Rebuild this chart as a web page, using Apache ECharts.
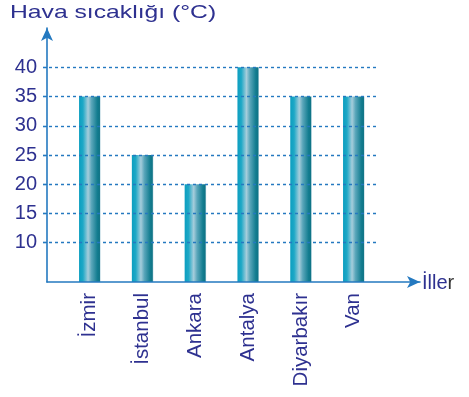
<!DOCTYPE html>
<html>
<head>
<meta charset="utf-8">
<script src="https://cdn.jsdelivr.net/npm/echarts@6/dist/echarts.min.js"></script>
<style>
  html, body { margin: 0; padding: 0; background: #ffffff; }
  #chart { width: 469px; height: 397px; }
</style>
</head>
<body>
<div id="chart"></div>
<script>
// Temperature by city
const cities = ['İzmir', 'İstanbul', 'Ankara', 'Antalya', 'Diyarbakır', 'Van'];
const temps = [35, 25, 20, 40, 35, 35];
const yTicks = [10, 15, 20, 25, 30, 35, 40];
const yTitle = 'Hava sıcaklığı (°C)';
const xTitle = 'İller';

// value range of the plot area; the arrowed axis box is a little taller
const yMin = 3.28;
const yMax = 45.7;
const yMaxAxis = 46.72;

const navy = '#2e3190';
const axisBlue = '#2479c0';
const font = 'Liberation Sans, Arial, sans-serif';

const barGradient = new echarts.graphic.LinearGradient(0, 0, 1, 0, [
  { offset: 0, color: '#0b9ec0' },
  { offset: 0.18, color: '#1ea8c6' },
  { offset: 0.42, color: '#a6cddb' },
  { offset: 0.58, color: '#5aa6ba' },
  { offset: 0.85, color: '#137d90' },
  { offset: 0.95, color: '#0f7486' },
  { offset: 1, color: '#bcd8e2' }
]);

const chart = echarts.init(document.getElementById('chart'), null, { renderer: 'canvas' });

chart.setOption({
  animation: false,
  backgroundColor: '#ffffff',
  grid: [
    // axes with arrows
    { left: 47, right: 49, top: 28, bottom: 115 },
    // dashed reference lines
    { left: 43, right: 93, top: 34, bottom: 115 },
    // bars
    { left: 63.4, right: 88.8, top: 34, bottom: 115 }
  ],
  xAxis: [
    {
      gridIndex: 0, type: 'value', min: 0, max: 1,
      axisLine: { show: true, symbol: ['none', 'arrow'], symbolSize: [9, 13],
        lineStyle: { color: axisBlue, width: 1.6 } },
      axisTick: { show: false }, axisLabel: { show: false }, splitLine: { show: false },
      z: 5
    },
    {
      gridIndex: 1, type: 'value', min: 0, max: 1, show: false
    },
    {
      gridIndex: 2, type: 'category', data: cities,
      axisLine: { show: false }, axisTick: { show: false },
      axisLabel: { rotate: 90, fontSize: 20.5, fontFamily: font, color: navy, margin: 11 }
    }
  ],
  yAxis: [
    {
      gridIndex: 0, type: 'value', min: yMin, max: yMaxAxis,
      axisLine: { show: true, symbol: ['none', 'arrow'], symbolSize: [9, 13],
        lineStyle: { color: axisBlue, width: 1.6 } },
      axisTick: { show: true, customValues: yTicks, length: 4, lineStyle: { color: axisBlue, width: 1.2 } },
      axisLabel: { customValues: yTicks, fontSize: 20, fontFamily: font, color: navy, margin: 10 },
      splitLine: { show: false },
      z: 5
    },
    { gridIndex: 1, type: 'value', min: yMin, max: yMax, show: false },
    { gridIndex: 2, type: 'value', min: yMin, max: yMax, show: false }
  ],
  series: [
    {
      type: 'line', xAxisIndex: 1, yAxisIndex: 1, data: [], silent: true,
      markLine: {
        silent: true, symbol: 'none', label: { show: false },
        lineStyle: { color: axisBlue, type: [3, 3], width: 1.4 },
        data: yTicks.map(v => ({ yAxis: v }))
      }
    },
    {
      type: 'bar', xAxisIndex: 2, yAxisIndex: 2, data: temps, barWidth: 21.5,
      itemStyle: { color: barGradient }, z: 3
    }
  ],
  graphic: [
    {
      type: 'text', x: 10, y: 13, scaleX: 1.3,
      style: { text: yTitle, font: '19px ' + font, fill: navy, verticalAlign: 'middle' }
    },
    {
      type: 'text', x: 422, y: 283,
      style: {
        text: '{a|İlle}{b|r}', verticalAlign: 'middle',
        rich: {
          a: { fontSize: 20, fontFamily: font, fill: navy, color: navy },
          b: { fontSize: 20, fontFamily: font, fill: '#333333', color: '#333333' }
        }
      }
    }
  ]
});
</script>
</body>
</html>
